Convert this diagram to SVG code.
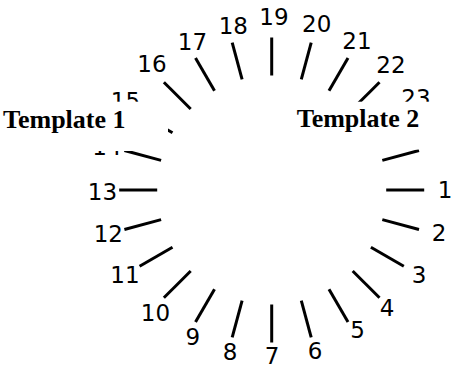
<svg xmlns="http://www.w3.org/2000/svg" width="453" height="366" viewBox="0 0 453 366">
<style>
.t{stroke:#000;stroke-width:3;fill:none}
.n{font-family:"DejaVu Sans",sans-serif;font-size:23px;fill:#000;text-anchor:middle}
.lab{font-family:"Liberation Serif",serif;font-weight:bold;font-size:26px;fill:#000}
</style>
<rect width="453" height="366" fill="#fff"/>
<g id="ticks" class="t">
<line x1="386.2" y1="190" x2="424.2" y2="190"/>
<line x1="382.3" y1="219.6" x2="419.0" y2="229.5"/>
<line x1="370.9" y1="247.3" x2="403.8" y2="266.3"/>
<line x1="352.7" y1="271.0" x2="379.5" y2="297.8"/>
<line x1="329.0" y1="289.2" x2="348.0" y2="322.1"/>
<line x1="301.3" y1="300.6" x2="311.2" y2="337.3"/>
<line x1="271.7" y1="304.5" x2="271.7" y2="342.5"/>
<line x1="242.1" y1="300.6" x2="232.2" y2="337.3"/>
<line x1="214.5" y1="289.2" x2="195.5" y2="322.1"/>
<line x1="190.7" y1="271.0" x2="163.9" y2="297.8"/>
<line x1="172.5" y1="247.3" x2="139.6" y2="266.3"/>
<line x1="161.1" y1="219.6" x2="124.4" y2="229.5"/>
<line x1="157.2" y1="190" x2="119.2" y2="190"/>
<line x1="161.1" y1="160.4" x2="124.4" y2="150.5"/>
<line x1="172.5" y1="132.8" x2="139.6" y2="113.8"/>
<line x1="190.7" y1="109.0" x2="163.9" y2="82.2"/>
<line x1="214.5" y1="90.8" x2="195.5" y2="57.9"/>
<line x1="242.1" y1="79.4" x2="232.2" y2="42.7"/>
<line x1="271.7" y1="75.5" x2="271.7" y2="37.5"/>
<line x1="301.3" y1="79.4" x2="311.2" y2="42.7"/>
<line x1="329.0" y1="90.8" x2="348.0" y2="57.9"/>
<line x1="352.7" y1="109.0" x2="379.5" y2="82.2"/>
<line x1="370.9" y1="132.8" x2="403.8" y2="113.8"/>
<line x1="382.3" y1="160.4" x2="419.0" y2="150.5"/>
</g>
<g id="numbers" class="n">
<text x="445" y="197.5">1</text>
<text x="439" y="240.5">2</text>
<text x="419" y="283">3</text>
<text x="387" y="316">4</text>
<text x="357.5" y="338">5</text>
<text x="315" y="358.5">6</text>
<text x="272" y="363.5">7</text>
<text x="230" y="360">8</text>
<text x="192.7" y="344.5">9</text>
<text x="155.5" y="320.5">10</text>
<text x="125" y="282.5">11</text>
<text x="108.3" y="241.5">12</text>
<text x="102.5" y="200">13</text>
<text x="107" y="154.5">14</text>
<text x="125.5" y="109">15</text>
<text x="152" y="71.5">16</text>
<text x="192.5" y="49.5">17</text>
<text x="233.3" y="33.5">18</text>
<text x="274" y="24.5">19</text>
<text x="316.7" y="31.5">20</text>
<text x="357" y="48.5">21</text>
<text x="391" y="72.5">22</text>
<text x="416" y="105.5">23</text>
</g>
<g id="template1">
<rect x="0" y="101.7" width="168" height="49.3" fill="#fff"/>
<text class="lab" x="3" y="128.3">Template 1</text>
</g>
<g id="template2">
<rect x="288" y="101.7" width="165" height="47.8" fill="#fff"/>
<text class="lab" x="296.7" y="127.3">Template 2</text>
</g>
</svg>
